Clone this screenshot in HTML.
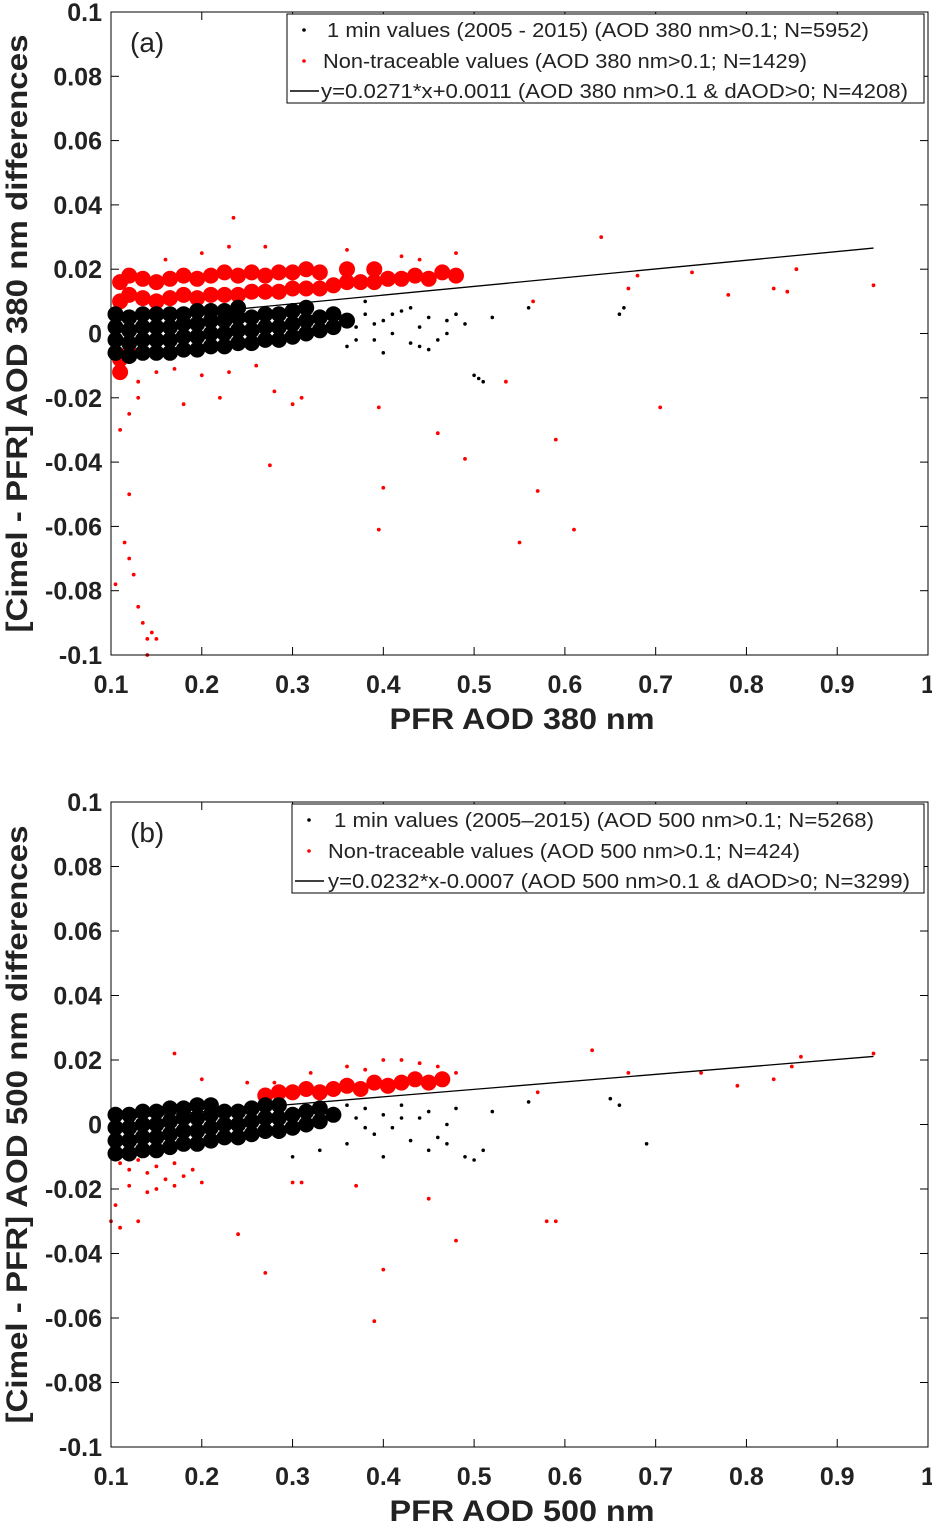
<!DOCTYPE html>
<html><head><meta charset="utf-8">
<style>
html,body{margin:0;padding:0;background:#fff;}
svg{display:block;}
text{font-family:"Liberation Sans",sans-serif;}
</style></head>
<body>
<svg id="chart" width="932" height="1522" viewBox="0 0 932 1522" xmlns="http://www.w3.org/2000/svg"></svg>
<script>
// ---------- data ----------
const xTicks = [0.1,0.2,0.3,0.4,0.5,0.6,0.7,0.8,0.9,1];
const xTickLabels = ["0.1","0.2","0.3","0.4","0.5","0.6","0.7","0.8","0.9","1"];
const yTicks = [0.1,0.08,0.06,0.04,0.02,0,-0.02,-0.04,-0.06,-0.08,-0.1];
const yTickLabels = ["0.1","0.08","0.06","0.04","0.02","0","-0.02","-0.04","-0.06","-0.08","-0.1"];

// Panel (a) 380 nm
const aRedDense = [
0.11,0.010,0.11,0.016,0.12,0.012,0.12,0.018,0.135,0.011,0.135,0.017,0.15,0.010,0.15,0.016,
0.165,0.011,0.165,0.017,0.18,0.012,0.18,0.018,0.195,0.011,0.195,0.017,0.21,0.012,0.21,0.018,
0.225,0.012,0.225,0.019,0.24,0.012,0.24,0.018,0.255,0.013,0.255,0.019,0.27,0.013,0.27,0.018,
0.285,0.013,0.285,0.019,0.30,0.014,0.30,0.019,0.315,0.014,0.315,0.020,0.33,0.014,0.33,0.019,
0.345,0.015,0.36,0.016,0.36,0.020,0.375,0.016,0.39,0.016,0.39,0.020,0.405,0.017,0.42,0.017,
0.435,0.018,0.45,0.017,0.465,0.019,0.48,0.018,0.11,-0.008,0.11,-0.012,0.12,-0.006];
const aBlackDense = [
0.105,-0.006,0.105,-0.002,0.105,0.002,0.105,0.006,0.12,-0.007,0.12,-0.003,0.12,0.001,0.12,0.005,
0.135,-0.006,0.135,-0.002,0.135,0.002,0.135,0.006,0.15,-0.006,0.15,-0.002,0.15,0.002,0.15,0.006,
0.165,-0.006,0.165,-0.002,0.165,0.002,0.165,0.006,0.18,-0.005,0.18,-0.001,0.18,0.003,0.18,0.006,
0.195,-0.005,0.195,-0.001,0.195,0.003,0.195,0.007,0.21,-0.004,0.21,0.0,0.21,0.004,0.21,0.007,
0.225,-0.004,0.225,0.0,0.225,0.004,0.225,0.007,0.24,-0.003,0.24,0.001,0.24,0.005,0.24,0.008,
0.255,-0.003,0.255,0.001,0.255,0.005,0.27,-0.002,0.27,0.002,0.27,0.006,0.285,-0.002,0.285,0.002,0.285,0.006,
0.30,-0.001,0.30,0.003,0.30,0.007,0.315,0.0,0.315,0.004,0.315,0.008,0.33,0.001,0.33,0.005,
0.345,0.002,0.345,0.006,0.36,0.004];
const aBlackSparse = [
0.37,0.002,0.38,0.006,0.39,-0.002,0.4,0.004,0.41,0.0,0.42,0.007,0.43,-0.003,0.44,0.002,0.45,0.005,
0.46,-0.002,0.47,0.0,0.48,0.006,0.49,0.003,0.5,-0.013,0.505,-0.014,0.51,-0.015,0.52,0.005,
0.56,0.008,0.66,0.006,0.665,0.008,0.36,-0.004,0.4,-0.006,0.45,-0.005,0.38,0.01,0.43,0.008,
0.37,-0.002,0.39,0.003,0.41,0.006,0.44,-0.004,0.47,0.004];
const aRedSparse = [
0.235,0.036,0.64,0.03,0.59,-0.033,0.57,-0.049,0.61,-0.061,0.55,-0.065,0.49,-0.039,0.46,-0.031,
0.4,-0.048,0.395,-0.061,0.275,-0.041,0.395,-0.023,0.705,-0.023,0.535,-0.015,0.565,0.01,
0.68,0.018,0.74,0.019,0.78,0.012,0.83,0.014,0.845,0.013,0.855,0.02,0.94,0.015,0.67,0.014,
0.11,-0.03,0.12,-0.025,0.13,-0.02,0.115,-0.065,0.12,-0.07,0.125,-0.075,0.13,-0.085,0.135,-0.09,
0.14,-0.095,0.145,-0.093,0.15,-0.095,0.14,-0.1,0.105,-0.078,0.12,-0.05,0.18,-0.022,0.22,-0.02,
0.3,-0.022,0.31,-0.02,0.36,0.026,0.48,0.025,0.27,0.027,0.2,0.025,0.16,0.023,0.23,0.027,
0.13,-0.015,0.15,-0.012,0.17,-0.011,0.2,-0.013,0.23,-0.012,0.26,-0.010,0.28,-0.018,0.42,0.024,0.44,0.023];
const aFit = [0.0271, 0.0011];

// Panel (b) 500 nm
const bBlackDense = [
0.105,-0.009,0.105,-0.005,0.105,-0.001,0.105,0.003,0.12,-0.009,0.12,-0.005,0.12,-0.001,0.12,0.003,
0.135,-0.008,0.135,-0.004,0.135,0.0,0.135,0.004,0.15,-0.008,0.15,-0.004,0.15,0.0,0.15,0.004,
0.165,-0.007,0.165,-0.003,0.165,0.001,0.165,0.005,0.18,-0.006,0.18,-0.002,0.18,0.002,0.18,0.005,
0.195,-0.006,0.195,-0.002,0.195,0.002,0.195,0.006,0.21,-0.005,0.21,-0.001,0.21,0.003,0.21,0.006,
0.225,-0.004,0.225,0.0,0.225,0.004,0.24,-0.004,0.24,0.0,0.24,0.004,0.255,-0.003,0.255,0.001,0.255,0.005,
0.27,-0.002,0.27,0.002,0.27,0.006,0.285,-0.002,0.285,0.002,0.285,0.006,0.30,-0.001,0.30,0.003,
0.315,0.0,0.315,0.004,0.33,0.001,0.33,0.005,0.345,0.003];
const bBlackSparse = [
0.37,0.002,0.38,0.005,0.39,-0.003,0.4,0.003,0.41,-0.001,0.42,0.006,0.43,-0.005,0.44,0.002,
0.45,-0.008,0.46,-0.004,0.47,0.0,0.48,0.005,0.49,-0.01,0.5,-0.011,0.51,-0.008,0.52,0.004,
0.56,0.007,0.65,0.008,0.66,0.006,0.69,-0.006,0.3,-0.01,0.33,-0.008,0.36,-0.006,0.4,-0.01,
0.36,0.006,0.38,-0.001,0.42,0.002,0.45,0.004,0.47,-0.006];
const bRedDense = [
0.27,0.009,0.285,0.010,0.30,0.010,0.315,0.011,0.33,0.010,0.345,0.011,0.36,0.012,0.375,0.011,
0.39,0.013,0.405,0.012,0.42,0.013,0.435,0.014,0.45,0.013,0.465,0.014];
const bRedSparse = [
0.1,-0.03,0.105,-0.025,0.11,-0.032,0.13,-0.03,0.17,0.022,0.24,-0.034,0.27,-0.046,0.4,-0.045,
0.39,-0.061,0.48,-0.036,0.45,-0.023,0.58,-0.03,0.59,-0.03,0.63,0.023,0.67,0.016,0.75,0.016,
0.79,0.012,0.83,0.014,0.85,0.018,0.86,0.021,0.94,0.022,0.57,0.01,0.3,-0.018,0.31,-0.018,
0.37,-0.019,0.15,-0.02,0.2,-0.018,0.36,0.018,0.4,0.02,0.42,0.02,0.44,0.019,0.2,0.014,0.25,0.013,
0.11,-0.012,0.12,-0.014,0.13,-0.011,0.14,-0.015,0.15,-0.013,0.16,-0.017,0.17,-0.012,0.18,-0.016,
0.19,-0.014,0.12,-0.019,0.14,-0.021,0.17,-0.019,0.28,0.013,0.32,0.016,0.38,0.017,0.46,0.018,0.48,0.016];
const bFit = [0.0232, -0.0007];

// ---------- drawing ----------
const NS = "http://www.w3.org/2000/svg";
const svg = document.getElementById("chart");
function el(tag, attrs, parent){
  const e = document.createElementNS(NS, tag);
  for (const k in attrs) e.setAttribute(k, attrs[k]);
  (parent||svg).appendChild(e);
  return e;
}
const X0 = 111, X1 = 928;
function xScale(v){ return X0 + (v-0.1)/0.9*(X1-X0); }

function panel(cfg){
  const g = el("g", {});
  
  
  const top = cfg.top, bot = cfg.bot;
  const yScale = v => top + (0.1 - v)/0.2*(bot-top);

  function pts(arr, color, r, nm){
    const pg = el("g", {fill: color}, g);
    
    
    for (let i=0;i<arr.length;i+=2){
      const c = el("circle", {cx: xScale(arr[i]).toFixed(1), cy: yScale(arr[i+1]).toFixed(1), r: r}, pg);
      
      
    }
  }
  pts(cfg.redDense, "#f00", 8, "red-dense-cloud");
  pts(cfg.blackDense, "#000", 8, "black-dense-cloud");
  pts(cfg.blackSparse, "#000", 1.8, "black-points");
  pts(cfg.redSparse, "#f00", 1.9, "red-points");

  const fl = el("line", {x1: xScale(0.1), y1: yScale(cfg.fit[0]*0.1+cfg.fit[1]),
    x2: xScale(0.94), y2: yScale(cfg.fit[0]*0.94+cfg.fit[1]), stroke:"#000", "stroke-width":1.3}, g);
  
  

  const fr = el("rect", {x:X0, y:top, width:X1-X0, height:bot-top, fill:"none", stroke:"#000", "stroke-width":1}, g);
  
  

  xTicks.forEach((v,i)=>{
    const x = xScale(v);
    el("line",{x1:x,y1:bot,x2:x,y2:bot-8,stroke:"#000"},g);
    el("line",{x1:x,y1:top,x2:x,y2:top+8,stroke:"#000"},g);
    const t = el("text",{x:x,y:bot+38,"text-anchor":"middle","font-size":25,"font-weight":"bold",fill:"#222"},g);
    t.textContent = xTickLabels[i];
    
    
  });
  yTicks.forEach((v,i)=>{
    const y = yScale(v);
    el("line",{x1:X0,y1:y,x2:X0+8,y2:y,stroke:"#000"},g);
    el("line",{x1:X1,y1:y,x2:X1-8,y2:y,stroke:"#000"},g);
    const t = el("text",{x:102,y:y+9,"text-anchor":"end","font-size":25,"font-weight":"bold",fill:"#222"},g);
    t.textContent = yTickLabels[i];
    
    
  });

  const xt = el("text",{x:522,y:bot+74,"text-anchor":"middle","font-size":30,"font-weight":"bold",fill:"#222",
    textLength:265,lengthAdjust:"spacingAndGlyphs"},g);
  xt.textContent = cfg.xTitle;
  
  
  const cy = (top+bot)/2;
  const yt = el("text",{x:0,y:0,transform:`translate(27,${cy}) rotate(-90)`,"text-anchor":"middle","font-size":30,"font-weight":"bold",fill:"#222",
    textLength:598,lengthAdjust:"spacingAndGlyphs"},g);
  yt.textContent = cfg.yTitle;
  
  

  const pl = el("text",{x:130,y:top+40,"font-size":28,fill:"#222"},g);
  pl.textContent = cfg.letter;
  
  

  const lg = el("g",{},g);
  
  
  el("rect",{x:cfg.legX,y:top+2,width:924-cfg.legX,height:89,fill:"#fff",stroke:"#000"},lg);
  const rows = [top+18, top+49, top+79];
  cfg.legend.forEach((txt,i)=>{
    const ry = rows[i];
    if (i===0) el("circle",{cx:cfg.legX+17,cy:ry,r:1.8,fill:"#000"},lg);
    if (i===1) el("circle",{cx:cfg.legX+17,cy:ry,r:1.8,fill:"#f00"},lg);
    if (i===2) el("line",{x1:cfg.legX+3,y1:ry,x2:cfg.legX+32,y2:ry,stroke:"#000","stroke-width":1.5},lg);
    const t = el("text",{x:cfg.legX+cfg.legOff[i],y:ry+7,"font-size":20,fill:"#222",
      textLength:cfg.legLen[i],lengthAdjust:"spacingAndGlyphs"},lg);
    t.textContent = txt;
    
    
  });
}

panel({name:"panel-a-380nm", top:12, bot:655, blackDense:aBlackDense, blackSparse:aBlackSparse,
  redDense:aRedDense, redSparse:aRedSparse, fit:aFit, letter:"(a)", legX:287,
  legOff:[40,36,34], legLen:[542,484,587],
  xTitle:"PFR AOD 380 nm", yTitle:"[Cimel - PFR] AOD 380 nm differences",
  legend:["1 min values (2005 - 2015) (AOD 380 nm>0.1; N=5952)",
          "Non-traceable values (AOD 380 nm>0.1; N=1429)",
          "y=0.0271*x+0.0011 (AOD 380 nm>0.1 & dAOD>0; N=4208)"]});
panel({name:"panel-b-500nm", top:802, bot:1447, blackDense:bBlackDense, blackSparse:bBlackSparse,
  redDense:bRedDense, redSparse:bRedSparse, fit:bFit, letter:"(b)", legX:292,
  legOff:[42,36,36], legLen:[540,472,582],
  xTitle:"PFR AOD 500 nm", yTitle:"[Cimel - PFR] AOD 500 nm differences",
  legend:["1 min values (2005\u20132015) (AOD 500 nm>0.1; N=5268)",
          "Non-traceable values (AOD 500 nm>0.1; N=424)",
          "y=0.0232*x-0.0007 (AOD 500 nm>0.1 & dAOD>0; N=3299)"]});
</script>
</body></html>
